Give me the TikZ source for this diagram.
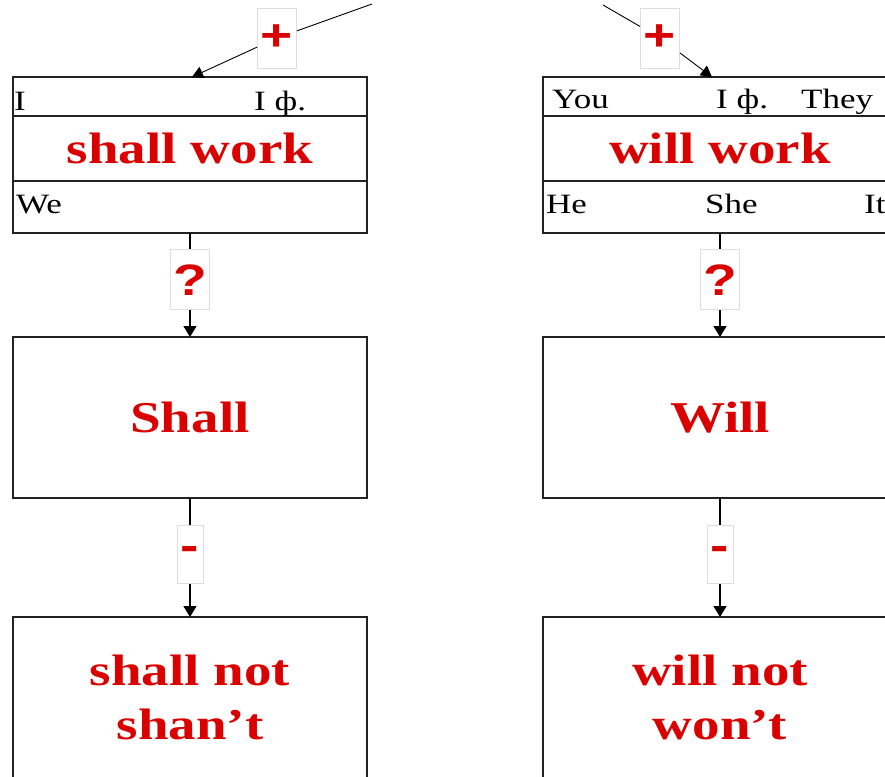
\documentclass[tikz,border=0pt]{standalone}
\usepackage{fontspec}
\usepackage{xcolor}
\usepackage{tikz}
\usetikzlibrary{arrows.meta,positioning,calc}
\newfontfamily\wordfont{Liberation Serif}[FakeStretch=1.25]
\newfontfamily\verbfont{Liberation Serif}[FakeStretch=1.25]
\newfontfamily\tagfont{Liberation Sans}[FakeStretch=1.25]
\definecolor{Xred}{RGB}{218,0,0}
\definecolor{Xline}{RGB}{35,35,35}
\definecolor{Xgray}{RGB}{222,222,222}
\tikzset{
  flow/.style={-{Triangle[length=11pt,width=13pt]}, line width=1.4pt, draw=black},
  thinflow/.style={-{Triangle[length=11pt,width=12pt]}, line width=0.9pt, draw=black},
  rowbox/.style={draw=Xline, line width=1.8pt, minimum width=354pt, outer sep=0pt, inner sep=0pt},
  bigbox/.style={rowbox, minimum height=161pt},
  verb/.style={font=\verbfont\bfseries\fontsize{44}{54}\selectfont, text=Xred, align=center},
  word/.style={font=\wordfont\fontsize{28}{30}\selectfont, inner sep=0pt, anchor=base west},
  tag/.style={draw=Xgray, line width=0.8pt, fill=white, font=\tagfont\bfseries\fontsize{44}{48}\selectfont, text=Xred, minimum width=39pt, minimum height=60pt, inner sep=0pt}
}
\begin{document}
\begin{tikzpicture}[x=1pt, y=-1pt]
  \useasboundingbox (0,0) rectangle (885,776);
  \clip (0,0) rectangle (885,776);

  % shall
  \node[rowbox, minimum height=39pt] (shallTop) at (190,96.5) {};
  \node[rowbox, verb, minimum height=65pt, below=0pt of shallTop] (shallMid) {shall work};
  \node[rowbox, minimum height=52pt, below=0pt of shallMid] (shallBot) {};
  \node[word] (wI) at (14,110) {I};
  \node[word] (wFormL) at (254,110) {I ф.};
  \node[word] (wWe) at (16,213) {We};
  \node[bigbox, verb] (shallQ) at (190,417.5) {Shall};
  \node[bigbox, verb] (shallNeg) at (190,697.5) {shall not\\shan’t};

  % will
  \node[rowbox, minimum height=39pt] (willTop) at (720,96.5) {};
  \node[rowbox, verb, minimum height=65pt, below=0pt of willTop] (willMid) {will work};
  \node[rowbox, minimum height=52pt, below=0pt of willMid] (willBot) {};
  \node[word] (wYou) at (552,108) {You};
  \node[word] (wFormR) at (716,108) {I ф.};
  \node[word] (wThey) at (801,108) {They};
  \node[word] (wHe) at (546,213) {He};
  \node[word] (wShe) at (705,213) {She};
  \node[word] (wIt) at (864,213) {It};
  \node[bigbox, verb] (willQ) at (720,417.5) {Will};
  \node[bigbox, verb] (willNeg) at (720,697.5) {will not\\won’t};

  \coordinate (inL) at (372,4);
  \coordinate (inR) at (603,5);
  \node[tag] (plusL) at (277,38) {+};
  \node[tag] (plusR) at (660,38) {+};

  \draw[thinflow] (inL) -- (plusL) -- ([xshift=2pt]shallTop.north);
  \draw[thinflow] (inR) -- (plusR) -- ([xshift=-8pt]willTop.north);
  \draw[flow] (shallBot) -- node[tag, pos=0.45] {?} (shallQ);
  \draw[flow] (willBot) -- node[tag, pos=0.45] {?} (willQ);
  \draw[flow] (shallQ) -- node[tag, minimum width=26pt, minimum height=58pt, pos=0.47] {-} (shallNeg);
  \draw[flow] (willQ) -- node[tag, minimum width=26pt, minimum height=58pt, pos=0.47] {-} (willNeg);
\end{tikzpicture}
\end{document}
